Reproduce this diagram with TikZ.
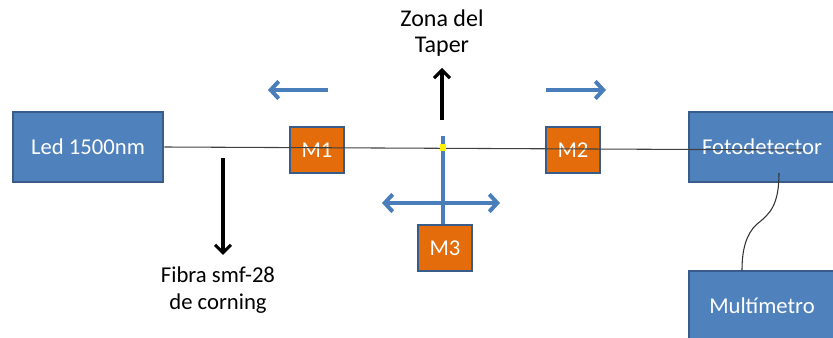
\documentclass[tikz,border=0pt]{standalone}
\usepackage{fontspec}
\setmainfont{Carlito}
\usepackage{tikz}
\usetikzlibrary{arrows.meta, positioning}
\definecolor{boxblue}{HTML}{4F81BD}
\definecolor{edgeblue}{HTML}{385D8A}
\definecolor{mirror}{HTML}{E46C0A}
\definecolor{arrowblue}{HTML}{4A7EBB}
\tikzset{
  bigbox/.style={rectangle,draw=edgeblue,fill=boxblue,line width=1.5pt,text=white,minimum width=113pt,minimum height=52pt,inner sep=0pt},
  mbox/.style={rectangle,draw=edgeblue,fill=mirror,line width=1.5pt,text=white,minimum width=40pt,minimum height=34.5pt,inner sep=0pt},
  bluearrow/.style={draw=arrowblue,line width=3pt,-{Straight Barb[length=6pt,width=13pt]}},
  blackarrow/.style={draw=black,line width=2.3pt,-{Straight Barb[length=6pt,width=12pt]}},
  label/.style={align=center,text=black}
}
\begin{document}
\begin{tikzpicture}[x=0.75pt,y=-0.75pt,font=\fontsize{17}{20}\selectfont]
    \useasboundingbox (0,0) rectangle (833,338);
    \clip (0,0) rectangle (833,338);

    % Source and detection
    \node[bigbox] (led) at (88,147) {Led 1500nm};
    \node[bigbox,minimum width=110pt] (foto) at (762,147) {Fotodetector};
    \node[bigbox,minimum width=110pt] (multi) at (762,306) {Multímetro};

    % Mirrors
    \node[mbox] (m1) at (317,150) {M1};
    \node[mbox] (m2) at (573,150) {M2};
    \node[mbox] (m3) at (445,248) {M3};

    % Stage of M3
    \coordinate (stagetop) at (443,136);
    \draw[arrowblue,line width=2.6pt] (stagetop) -- (m3.north -| stagetop);
    \coordinate (sl) at (382,203);
    \coordinate (sr) at (500,203);
    \draw[bluearrow,{Straight Barb[length=6pt,width=13pt]}-{Straight Barb[length=6pt,width=13pt]}] (sl) -- (sr);

    % Fiber
    \coordinate (fin) at (803,150);
    \draw[black!75,line width=0.8pt] (led.east) -- (fin);
    \fill[yellow] (440,144.5) rectangle (446,151.5);

    % Motion of M1 and M2
    \coordinate (l1) at (328,90);
    \coordinate (l2) at (268,90);
    \coordinate (r1) at (546,90);
    \coordinate (r2) at (606,90);
    \draw[bluearrow] (l1) -- (l2);
    \draw[bluearrow] (r1) -- (r2);

    % Labels
    \node[label,font=\fontsize{18}{20}\selectfont] (taper) at (442,33) {Zona del\\Taper};
    \coordinate (tp) at (442,120);
    \draw[blackarrow] (tp) -- (442,68);
    \node[label] (fibra) at (218,290) {Fibra smf-28\\de corning};
    \coordinate (fb) at (223,158);
    \draw[blackarrow] (fb) -- (223,255);

    % Cable to multimeter
    \coordinate (w1) at (779,173);
    \draw[black!80,line width=0.8pt] (w1) .. controls (779,205) and (770,214) .. (757,224)
        .. controls (746,234) and (742,250) .. ([xshift=-15pt]multi.north);
\end{tikzpicture}
\end{document}
